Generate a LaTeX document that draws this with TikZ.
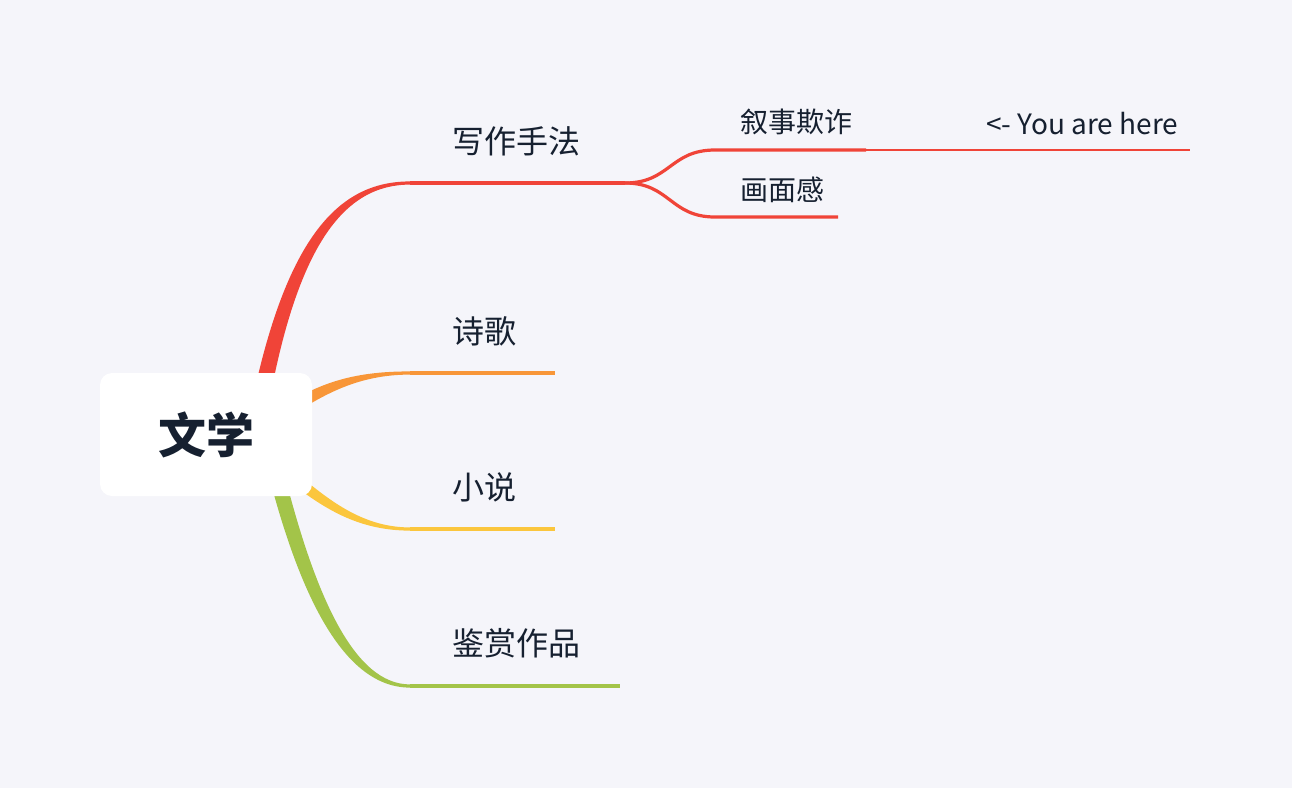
\documentclass[tikz,border=0pt]{standalone}
\usepackage{fontspec}
\setmainfont{Noto Sans CJK SC}
\usetikzlibrary{calc,backgrounds}
\definecolor{bgclr}{RGB}{245,245,250}
\definecolor{txtclr}{RGB}{22,32,48}
\definecolor{cred}{RGB}{240,68,56}
\definecolor{corg}{RGB}{248,150,56}
\definecolor{cyel}{RGB}{251,198,61}
\definecolor{cgrn}{RGB}{163,196,73}
\tikzset{
  %% central topic
  rootblk/.style={rectangle,rounded corners=12pt,fill=white,
    minimum width=212pt,minimum height=123pt,inner sep=0pt,
    font=\fontsize{48}{52}\selectfont\bfseries,text=txtclr},
  %% first level label
  tlbl/.style={anchor=west,inner sep=0pt,
    font=\fontsize{32}{36}\selectfont,text=txtclr},
  %% second level label
  slbl/.style={anchor=west,inner sep=0pt,
    font=\fontsize{28}{32}\selectfont,text=txtclr},
  %% branch lines
  brl/.style={line width=3.2pt,draw=#1},
  thinl/.style={line width=2pt,draw=#1},
}
\begin{document}
\begin{tikzpicture}[x=1pt,y=-1pt]
  \node[rootblk] (root) at (206,434.5) {文学};

  \node[tlbl] (xz) at (452,141) {写作手法};
  \node[tlbl] (sg) at (452,331) {诗歌};
  \node[tlbl] (xs) at (452,487) {小说};
  \node[tlbl] (js) at (452,643) {鉴赏作品};
  \node[slbl] (ns) at (740,122) {叙事欺诈};
  \node[slbl] (hm) at (740,190) {画面感};
  \node[slbl] (yh) at (986,124) {<- You are here};

  %% branch roots (hidden under the central topic)
  \coordinate (rs) at ($(root.center)+(49,-2)$);
  \coordinate (os) at ($(root.center)+(34,10)$);
  \coordinate (ys) at ($(root.center)+(34,0)$);
  \coordinate (gs) at ($(root.center)+(62,5)$);
  %% line ends
  \coordinate (xzL) at (410,183);  \coordinate (xzR) at (625,183);
  \coordinate (sgL) at (410,373);  \coordinate (sgR) at (555,373);
  \coordinate (xsL) at (410,529);  \coordinate (xsR) at (555,529);
  \coordinate (jsL) at (410,686);  \coordinate (jsR) at (620,686);
  \coordinate (nsL) at (715,150);  \coordinate (nsR) at (866,150);
  \coordinate (yhR) at (1190,150);
  \coordinate (hmL) at (715,217);  \coordinate (hmR) at (838,217);

  \begin{scope}[on background layer]
    \fill[bgclr] (0,0) rectangle (1292,788);
    %% tapered main branches
    \fill[cred] ($(rs)+(-9,0)$) .. controls +(35,-190) and +(-75,0) .. ($(xzL)+(0,-1.6)$)
      -- ($(xzL)+(0,1.6)$) .. controls +(-65,0) and +(30,-190) .. ($(rs)+(9,0)$) -- cycle;
    \fill[corg] ($(os)+(0,-6)$) .. controls +(60,-50) and +(-70,0) .. ($(sgL)+(0,-1.6)$)
      -- ($(sgL)+(0,1.6)$) .. controls +(-70,0) and +(60,-40) .. ($(os)+(0,6)$) -- cycle;
    \fill[cyel] ($(ys)+(0,-6)$) .. controls +(60,40) and +(-70,0) .. ($(xsL)+(0,-1.6)$)
      -- ($(xsL)+(0,1.6)$) .. controls +(-70,0) and +(60,50) .. ($(ys)+(0,6)$) -- cycle;
    \fill[cgrn] ($(gs)+(-8,0)$) .. controls +(37,160) and +(-65,0) .. ($(jsL)+(0,1.6)$)
      -- ($(jsL)+(0,-1.6)$) .. controls +(-55,0) and +(37,160) .. ($(gs)+(8,0)$) -- cycle;
    %% label lines
    \draw[brl=cred] (xzL) -- (xzR);
    \draw[brl=corg] (sgL) -- (sgR);
    \draw[brl=cyel] (xsL) -- (xsR);
    \draw[brl=cgrn] (jsL) -- (jsR);
    %% sub branches
    \draw[brl=cred] (xzR) .. controls +(45,0) and +(-45,0) .. (nsL) -- (nsR);
    \draw[brl=cred] (xzR) .. controls +(45,0) and +(-45,0) .. (hmL) -- (hmR);
    \draw[thinl=cred] (nsR) -- (yhR);
  \end{scope}
\end{tikzpicture}
\end{document}
